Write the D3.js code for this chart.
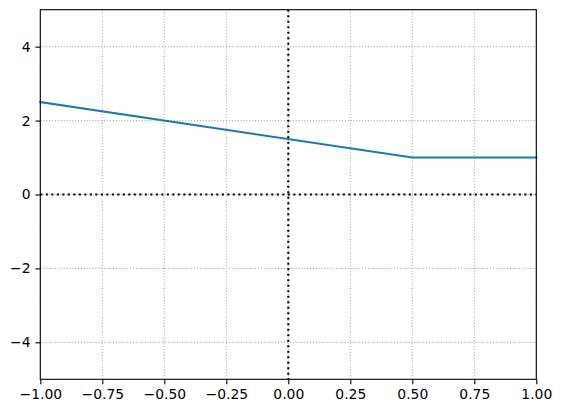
<!DOCTYPE html>
<html>
<head>
<meta charset="utf-8">
<script src="https://cdn.jsdelivr.net/npm/d3@7"></script>
<style>
  body { margin: 0; background: #fff; }
  svg { display: block; font-family: "DejaVu Sans", sans-serif; }
</style>
</head>
<body>
<svg id="chart" width="561" height="413"></svg>
<script>
// data
var xs = [-1, 0.5, 1];
var ys = [2.5, 1, 1];
var xTicks = [-1, -0.75, -0.5, -0.25, 0, 0.25, 0.5, 0.75, 1];
var yTicks = [-4, -2, 0, 2, 4];

// plot box (window.top is taken, so own names)
var plotL = 40.3, plotR = 536.3,
    plotT = 9.7, plotB = 379.3;

var svg = d3.select("#chart");

var x = d3.scaleLinear().domain([-1, 1]).range([plotL, plotR]),
    y = d3.scaleLinear().domain([-5, 5]).range([plotB, plotT]);

function fmt(v, digits) {
    return v.toFixed(digits).replace("-", "\u2212");
}

// grid
var grid = svg.append("g").attr("class", "grid");
grid.selectAll("line.gx")
    .data(xTicks)
    .enter().append("line")
    .attr("x1", d => x(d)).attr("x2", d => x(d))
    .attr("y1", plotT).attr("y2", plotB)
    .attr("stroke", "#b0b0b0")
    .attr("stroke-width", 1.1)
    .attr("stroke-dasharray", "1.1,1.8");
grid.selectAll("line.gy")
    .data(yTicks)
    .enter().append("line")
    .attr("y1", d => y(d)).attr("y2", d => y(d))
    .attr("x1", plotL).attr("x2", plotR)
    .attr("stroke", "#b0b0b0")
    .attr("stroke-width", 1.1)
    .attr("stroke-dasharray", "1.1,1.8");

// zero lines
svg.append("line")
    .attr("x1", plotL).attr("x2", plotR)
    .attr("y1", y(0)).attr("y2", y(0))
    .attr("stroke", "#000").attr("stroke-width", 2.1)
    .attr("stroke-dasharray", "2.1,3.4");
svg.append("line")
    .attr("x1", x(0)).attr("x2", x(0))
    .attr("y1", plotT).attr("y2", plotB)
    .attr("stroke", "#000").attr("stroke-width", 2.1)
    .attr("stroke-dasharray", "2.1,3.4");

// the curve
var line = d3.line()
    .x(function (d) { return x(d[0]); })
    .y(function (d) { return y(d[1]); });
svg.append("path")
    .attr("d", line(xs.map((v, i) => [v, ys[i]])))
    .attr("fill", "none")
    .attr("stroke", "#1f77b4")
    .attr("stroke-width", 2.1)
    .attr("stroke-linecap", "square");

// frame
svg.append("rect")
    .attr("x", plotL).attr("y", plotT)
    .attr("width", plotR - plotL).attr("height", plotB - plotT)
    .attr("fill", "none").attr("stroke", "#000").attr("stroke-width", 1.1);

// axes
var xAxis = d3.axisBottom(x).tickValues(xTicks)
    .tickFormat(d => fmt(d, 2)).tickSize(4.9).tickPadding(4.9);
var yAxis = d3.axisLeft(y).tickValues(yTicks)
    .tickFormat(d => fmt(d, 0)).tickSize(4.9).tickPadding(4.9);

var gx = svg.append("g").attr("transform", "translate(0," + plotB + ")").call(xAxis);
var gy = svg.append("g").attr("transform", "translate(" + plotL + ",0)").call(yAxis);

[gx, gy].forEach(g => {
    g.select(".domain").remove();
    g.selectAll(".tick line").attr("stroke", "#000").attr("stroke-width", 1.1);
    g.selectAll(".tick text")
        .attr("fill", "#000")
        .style("font-family", "DejaVu Sans")
        .style("font-size", "13.9px");
});
</script>
</body>
</html>
